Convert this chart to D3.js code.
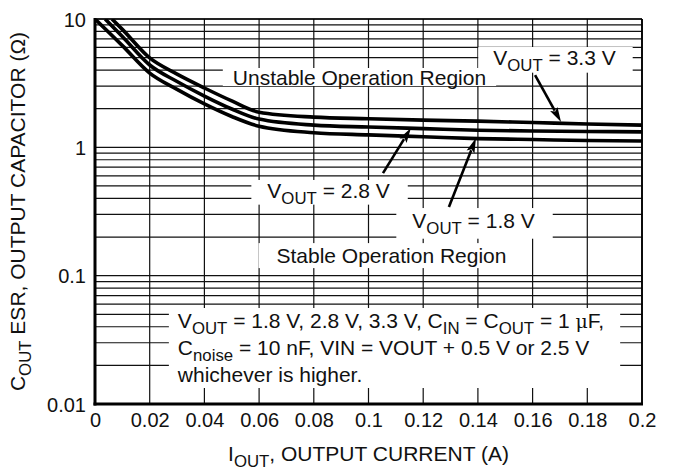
<!DOCTYPE html>
<html>
<head>
<meta charset="utf-8">
<script src="https://cdn.jsdelivr.net/npm/d3@7/dist/d3.min.js"></script>
<style>
  html, body { margin: 0; padding: 0; background: #fff; }
  svg { display: block; font-family: "Liberation Sans", Arial, Helvetica, sans-serif; }
</style>
</head>
<body>
<svg id="chart" width="678" height="472"></svg>
<script>
// Output current (A) sample points shared by the three curves
const iout = [0.01, 0.02, 0.03, 0.04, 0.05, 0.06, 0.08, 0.10, 0.12, 0.14, 0.16, 0.18, 0.20];
// Minimum stable ESR (Ω) for each output voltage
const esr18 = [6.2, 3.79, 2.83, 2.18, 1.74, 1.46, 1.30, 1.25, 1.21, 1.17, 1.15, 1.13, 1.12];
const esr28 = [7.3, 4.38, 3.26, 2.51, 1.99, 1.66, 1.49, 1.44, 1.40, 1.36, 1.34, 1.33, 1.32];
const esr33 = [8.3, 4.97, 3.72, 2.90, 2.30, 1.88, 1.72, 1.67, 1.63, 1.60, 1.56, 1.52, 1.49];
// Current at which each curve leaves the 10 Ω top of the graph
const startIout = [0, 0.0037, 0.0062];
const startEsr = 10;

// Axis ticks
const xTicks = [0, 0.02, 0.04, 0.06, 0.08, 0.10, 0.12, 0.14, 0.16, 0.18, 0.20];
const xTickLabels = ["0", "0.02", "0.04", "0.06", "0.08", "0.1", "0.12", "0.14", "0.16", "0.18", "0.2"];
const yTicks = [0.01, 0.1, 1, 10];
const yTickLabels = ["0.01", "0.1", "1", "10"];

const W = 678, H = 472;
const margin = { top: 19, right: 36, bottom: 68, left: 95 };
const svg = d3.select("#chart");
const FONT = "Liberation Sans, Arial, sans-serif";
const labelSize = 21, tickSize = 20, titleSize = 21;

const x = d3.scaleLinear().domain([0, 0.2]).range([margin.left, W - margin.right]);
const y = d3.scaleLog().domain([0.01, 10]).range([H - margin.bottom, margin.top]);

// Clip region for the plotted curves
svg.append("defs").append("clipPath").attr("id", "plotClip")
  .append("rect")
  .attr("x", x(0)).attr("y", y(10))
  .attr("width", x(0.2) - x(0)).attr("height", y(0.01) - y(10));

// Grid: vertical lines every 0.02 A
const grid = svg.append("g").attr("stroke", "#111").attr("stroke-width", 1.2);
grid.selectAll("line.v").data(xTicks).join("line")
  .attr("class", "v")
  .attr("x1", d => x(d)).attr("x2", d => x(d))
  .attr("y1", y(10)).attr("y2", y(0.01));

// Grid: log lines 1..9 in every decade
const yGrid = [];
[0.01, 0.1, 1].forEach(dec => { for (let k = 1; k <= 9; k++) yGrid.push(dec * k); });
yGrid.push(10);
grid.selectAll("line.h").data(yGrid).join("line")
  .attr("class", "h")
  .attr("x1", x(0)).attr("x2", x(0.2))
  .attr("y1", d => y(d)).attr("y2", d => y(d));

// Frame
svg.append("line").attr("x1", x(0)).attr("x2", x(0.2)).attr("y1", y(10)).attr("y2", y(10))
  .attr("stroke", "#000").attr("stroke-width", 1.6);
svg.append("line").attr("x1", x(0.2)).attr("x2", x(0.2)).attr("y1", y(10)).attr("y2", y(0.01))
  .attr("stroke", "#000").attr("stroke-width", 1.8);

// Tick labels via d3 axes (domain and tick lines hidden)
const xAxis = d3.axisBottom(x).tickValues(xTicks).tickSize(0).tickPadding(0)
  .tickFormat((d, i) => xTickLabels[i]);
const gx = svg.append("g").attr("transform", `translate(0,${y(0.01)})`).call(xAxis);
gx.select(".domain").remove();
gx.selectAll("text").attr("font-size", tickSize).attr("fill", "#111")
  .attr("font-family", FONT).attr("dy", null).attr("y", 23);

const yAxis = d3.axisLeft(y).tickValues(yTicks).tickSize(0).tickPadding(0)
  .tickFormat((d, i) => yTickLabels[i]);
const gy = svg.append("g").attr("transform", `translate(${x(0)},0)`).call(yAxis);
gy.select(".domain").remove();
gy.selectAll("text").attr("font-size", tickSize).attr("fill", "#111")
  .attr("font-family", FONT).attr("x", -9).attr("dy", "0.36em");

// Append text segments (plain, subscript or symbol) to a text/tspan selection
function addSegments(sel, segs, size) {
  const subSize = size * 0.8, shift = size * 0.27;
  let low = false;
  segs.forEach(s => {
    const t = sel.append("tspan").text(s.t);
    if (s.sub && !low) { t.attr("dy", shift); low = true; }
    else if (!s.sub && low) { t.attr("dy", -shift); low = false; }
    t.attr("font-size", s.sub ? subSize : size);
    if (s.sym) t.attr("font-family", "DejaVu Serif, serif").attr("font-size", size * 0.9);
  });
  if (low) sel.append("tspan").attr("dy", -shift).text("");
  return sel;
}

// Text label on a white background box
function boxedLabel(g, cfg) {
  const box = g.append("rect").attr("fill", "#fff");
  const txt = g.append("text")
    .attr("x", x(cfg.ix)).attr("y", y(cfg.esr))
    .attr("text-anchor", cfg.anchor || "middle")
    .attr("fill", "#111");
  cfg.lines.forEach((segs, i) => {
    const row = txt.append("tspan").attr("x", x(cfg.ix));
    if (i > 0) row.attr("y", y(cfg.esr) + i * cfg.lineGap);
    addSegments(row, segs, cfg.size);
  });
  const bb = txt.node().getBBox();
  const p = cfg.pad;
  box.attr("x", bb.x - p[0]).attr("y", bb.y - p[2])
     .attr("width", bb.width + p[0] + p[1]).attr("height", bb.height + p[2] + p[3]);
}

const labels = svg.append("g");
boxedLabel(labels, { ix: 0.0967, esr: 3.06, size: labelSize, pad: [10, 10, -2, -3],
  lines: [[{ t: "Unstable Operation Region" }]] });
boxedLabel(labels, { ix: 0.1084, esr: 0.1253, size: labelSize, pad: [18, 24, 1, 1],
  lines: [[{ t: "Stable Operation Region" }]] });
boxedLabel(labels, { ix: 0.168, esr: 4.38, size: labelSize, pad: [15, 17, -1, -2],
  lines: [[{ t: "V" }, { t: "OUT", sub: true }, { t: " = 3.3 V" }]] });
boxedLabel(labels, { ix: 0.0854, esr: 0.403, size: labelSize, pad: [16, 18, -1, -3],
  lines: [[{ t: "V" }, { t: "OUT", sub: true }, { t: " = 2.8 V" }]] });
boxedLabel(labels, { ix: 0.1384, esr: 0.235, size: labelSize, pad: [16, 18, 1, 1],
  lines: [[{ t: "V" }, { t: "OUT", sub: true }, { t: " = 1.8 V" }]] });
boxedLabel(labels, { ix: 0.0303, esr: 0.0391, size: labelSize, anchor: "start", lineGap: 27, pad: [8, 16, 1, 2],
  lines: [
    [{ t: "V" }, { t: "OUT", sub: true }, { t: " = 1.8 V, 2.8 V, 3.3 V, C" }, { t: "IN", sub: true },
     { t: " = C" }, { t: "OUT", sub: true }, { t: " = 1 " }, { t: "μ", sym: true }, { t: "F," }],
    [{ t: "C" }, { t: "noise", sub: true }, { t: " = 10 nF, VIN = VOUT + 0.5 V or 2.5 V" }],
    [{ t: "whichever is higher." }]
  ] });

// Curves
const line = d3.line().x(d => x(d[0])).y(d => y(d[1])).curve(d3.curveMonotoneX);
const series = [esr18, esr28, esr33];
const curves = svg.append("g").attr("clip-path", "url(#plotClip)");
series.forEach((vals, k) => {
  const pts = [[startIout[k], startEsr]].concat(iout.map((c, i) => [c, vals[i]]));
  curves.append("path").datum(pts).attr("d", line)
    .attr("fill", "none").attr("stroke", "#000").attr("stroke-width", 3.6)
    .attr("stroke-linejoin", "round");
});

// Axis lines on the left and bottom (heavier)
svg.append("line").attr("x1", x(0)).attr("x2", x(0)).attr("y1", y(10) - 1).attr("y2", y(0.01) + 1.5)
  .attr("stroke", "#000").attr("stroke-width", 3);
svg.append("line").attr("x1", x(0) - 1.5).attr("x2", x(0.2) + 1).attr("y1", y(0.01)).attr("y2", y(0.01))
  .attr("stroke", "#000").attr("stroke-width", 2.8);

// Arrows from labels to curves (data-space tail and tip)
const arrows = [
  { from: [0.1609, 3.66], to: [0.1704, 1.574] },
  { from: [0.1053, 0.630], to: [0.1155, 1.414] },
  { from: [0.1294, 0.3424], to: [0.1393, 1.18] }
];
const ag = svg.append("g");
arrows.forEach(a => {
  const x0 = x(a.from[0]), y0 = y(a.from[1]), x1 = x(a.to[0]), y1 = y(a.to[1]);
  const dx = x1 - x0, dy = y1 - y0, L = Math.hypot(dx, dy);
  const ux = dx / L, uy = dy / L, hl = 15, hw = 4.2;
  const bx = x1 - ux * hl, by = y1 - uy * hl;
  ag.append("line").attr("x1", x0).attr("y1", y0).attr("x2", bx + ux * 2).attr("y2", by + uy * 2)
    .attr("stroke", "#000").attr("stroke-width", 2.6);
  ag.append("path")
    .attr("d", `M${x1},${y1}L${bx - uy * hw},${by + ux * hw}L${bx + ux * 3},${by + uy * 3}L${bx + uy * hw},${by - ux * hw}Z`)
    .attr("fill", "#000");
});

// Axis titles
const xt = svg.append("text").attr("x", (x(0) + x(0.2)) / 2).attr("y", 461)
  .attr("text-anchor", "middle").attr("fill", "#111");
addSegments(xt, [{ t: "I" }, { t: "OUT", sub: true }, { t: ", OUTPUT CURRENT (A)" }], titleSize);

const yt = svg.append("text")
  .attr("transform", `translate(25,${(y(10) + y(0.01)) / 2}) rotate(-90)`)
  .attr("text-anchor", "middle").attr("fill", "#111");
addSegments(yt, [{ t: "C" }, { t: "OUT", sub: true }, { t: " ESR, OUTPUT CAPACITOR (Ω)" }], titleSize);
</script>
</body>
</html>
